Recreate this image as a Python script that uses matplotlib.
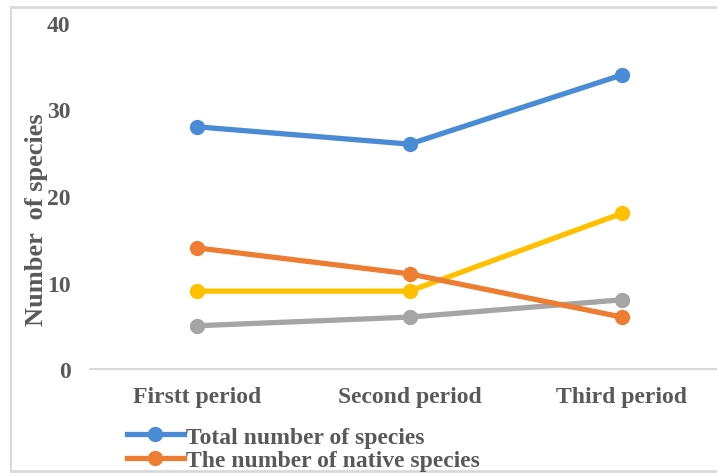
import matplotlib.pyplot as plt
from matplotlib.lines import Line2D

# data
periods = ['Firstt period', 'Second period', 'Third period']
total_species = [28, 26, 34]
native_species = [14, 11, 6]
yellow_series = [9, 9, 18]
gray_series = [5, 6, 8]
y_ticks = [0, 10, 20, 30, 40]

text_color = '#595959'
plt.rcParams['font.family'] = ['Liberation Serif', 'DejaVu Serif']
plt.rcParams['font.weight'] = 'bold'

fig = plt.figure(figsize=(7.17, 4.77), dpi=100)
ax = fig.add_axes([90 / 717, (477 - 370) / 477, 1 - 90 / 717, (370 - 24) / 477])

x = list(range(len(periods)))
ax.plot(x, total_species, color='#4A8BD6', lw=3.8, marker='o', ms=10,
        label='Total number of species', zorder=3)
ax.plot(x, native_species, color='#ED7D31', lw=3.8, marker='o', ms=10,
        label='The number of native species', zorder=3)
ax.plot(x, yellow_series, color='#FFC000', lw=3.8, marker='o', ms=10, zorder=2)
ax.plot(x, gray_series, color='#A5A5A5', lw=3.8, marker='o', ms=10, zorder=2)

ax.set_xlim(-107 / 212.5, 2 + 95 / 212.5)
ax.set_ylim(0, 40)
ax.set_xticks(x)
ax.set_xticklabels(periods)
ax.set_yticks(y_ticks)
ax.tick_params(length=0, labelsize=17, labelcolor=text_color)
ax.tick_params(axis='y', pad=14)
ax.tick_params(axis='x', pad=12)

for s in ['top', 'right', 'left']:
    ax.spines[s].set_visible(False)
ax.spines['bottom'].set_color('#d9d9d9')
ax.spines['bottom'].set_linewidth(1.5)

fig.text(37 / 717, 1 - 220 / 477, 'Number  of species', rotation=90,
         ha='center', va='center', fontsize=19, color=text_color)

handles, labels = ax.get_legend_handles_labels()
leg = fig.legend(handles, labels, loc='upper left',
                 bbox_to_anchor=(127 / 717, 1 - 427 / 477), frameon=False,
                 fontsize=17, handlelength=2.4, handletextpad=0.1,
                 labelspacing=0.08, borderpad=0, borderaxespad=0)
for t in leg.get_texts():
    t.set_color(text_color)

# chart border
border = '#d9d9d9'
fig.add_artist(Line2D([11 / 717, 1], [1 - 8 / 477] * 2, color=border, lw=2))
fig.add_artist(Line2D([11 / 717, 1], [1 - 472 / 477] * 2, color=border, lw=2))
fig.add_artist(Line2D([11 / 717] * 2, [1 - 8 / 477, 1 - 472 / 477], color=border, lw=1.5))

fig.savefig('out.png', dpi=100)
